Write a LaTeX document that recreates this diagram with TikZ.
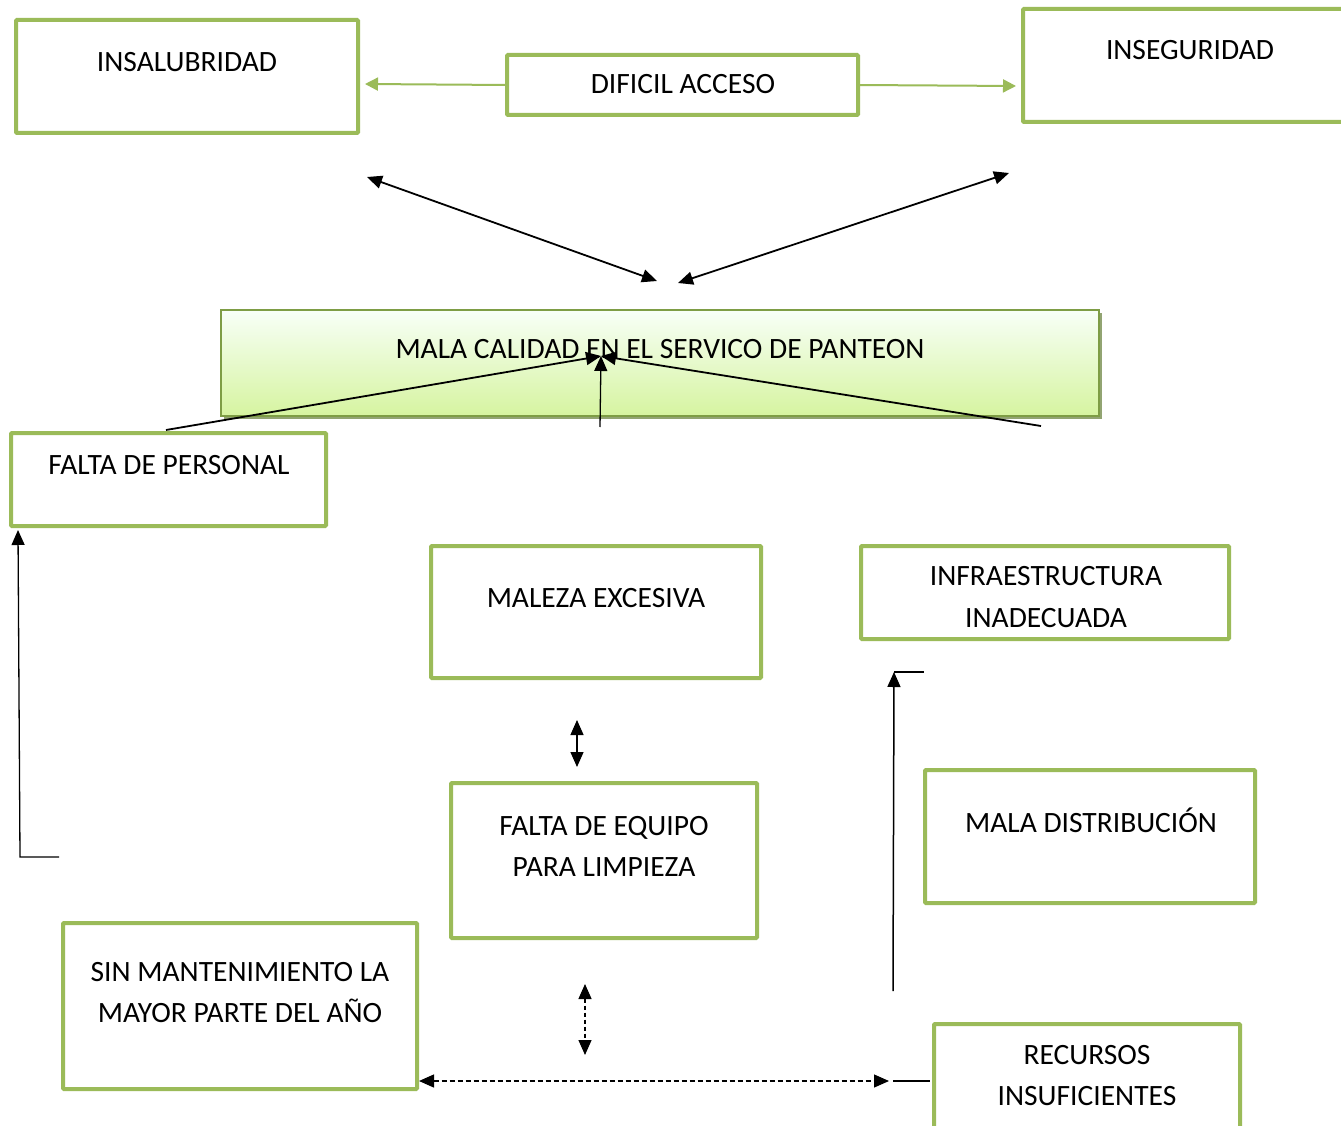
\documentclass[tikz,border=0pt]{standalone}
\usepackage{fontspec}
\setmainfont{Carlito}
\usetikzlibrary{arrows.meta,shadows}
\definecolor{boxgreen}{HTML}{9BBB59}
\definecolor{darkgreen}{HTML}{7E9D45}
\tikzset{
  box/.style={draw=boxgreen, line width=4pt, rounded corners=1pt, inner sep=0pt, outer sep=0pt, anchor=north west, fill=white},
  lbl/.style={anchor=base, inner sep=0pt, font=\fontsize{29.5}{41}\selectfont, align=center},
  conn/.style={black, line width=1.8pt, -{Triangle[length=15pt,width=13pt]}},
  dconn/.style={black, line width=1.8pt, {Triangle[length=15pt,width=13pt]}-{Triangle[length=15pt,width=13pt]}},
  gconn/.style={boxgreen, line width=2pt, -{Triangle[length=13pt,width=13pt]}},
  plain/.style={black, line width=1.8pt},
}
\begin{document}
\begin{tikzpicture}[x=1pt,y=-1pt]
\clip (0,0) rectangle (1341,1126);
\fill[white] (0,0) rectangle (1341,1126);

% boxes
\node[box, minimum width=342pt, minimum height=113pt] (insal) at (16,20) {};
\node[box, minimum width=351pt, minimum height=60pt] (dific) at (507,55) {};
\node[box, minimum width=337pt, minimum height=113pt] (inseg) at (1023,9) {};
\node[anchor=north west, minimum width=878pt, minimum height=106pt, inner sep=0pt, outer sep=0pt,
      draw=darkgreen, line width=1.5pt, top color=green!3!white, bottom color={rgb,255:red,214;green,244;blue,160},
      drop shadow={shadow xshift=2.5pt, shadow yshift=-3pt, fill=darkgreen!80!black, opacity=0.7}] (mala) at (221,310) {};
\node[box, minimum width=315pt, minimum height=93pt] (fpers) at (11,433) {};
\node[box, minimum width=330pt, minimum height=132pt] (malez) at (431,546) {};
\node[box, minimum width=368pt, minimum height=93pt] (infra) at (861,546) {};
\node[box, minimum width=306pt, minimum height=155pt] (fequip) at (451,783) {};
\node[box, minimum width=330pt, minimum height=133pt] (maldis) at (925,770) {};
\node[box, minimum width=354pt, minimum height=166pt] (sinm) at (63,923) {};
\node[box, minimum width=306pt, minimum height=116pt] (recur) at (934,1024) {};

% labels
\node[lbl] (tinsal) at (187,72) {INSALUBRIDAD};
\node[lbl] (tdific) at (683,94) {DIFICIL ACCESO};
\node[lbl] (tinseg) at (1190,60) {INSEGURIDAD};
\node[lbl] (tmala) at (660,358) {MALA CALIDAD EN EL SERVICO DE PANTEON};
\node[lbl] (tfpers) at (169,474) {FALTA DE PERSONAL};
\node[lbl] (tmalez) at (596,607) {MALEZA EXCESIVA};
\node[lbl] (tinfra1) at (1046,585) {INFRAESTRUCTURA};
\node[lbl] (tinfra2) at (1046,627) {INADECUADA};
\node[lbl] (tfeq1) at (604,835) {FALTA DE EQUIPO};
\node[lbl] (tfeq2) at (604,876) {PARA LIMPIEZA};
\node[lbl] (tmaldis) at (1091,832) {MALA DISTRIBUCIÓN};
\node[lbl] (tsinm1) at (240,981) {SIN MANTENIMIENTO LA};
\node[lbl] (tsinm2) at (240,1022) {MAYOR PARTE DEL AÑO};
\node[lbl] (trecur1) at (1087,1064) {RECURSOS};
\node[lbl] (trecur2) at (1087,1105) {INSUFICIENTES};

% free-end coordinates
\coordinate (gL) at (365,84);
\coordinate (gR) at (1016,86);
\coordinate (a1) at (367,177);
\coordinate (a2) at (657,281);
\coordinate (b1) at (1009,173);
\coordinate (b2) at (678,283);
\coordinate (t) at (601,356);
\coordinate (c1) at (166,430);
\coordinate (c2) at (600,427);
\coordinate (c3) at (1041,426);
\coordinate (e1) at (59,857);
\coordinate (e2) at (20,857);
\coordinate (e3) at (18,530);
\coordinate (m1) at (577,720);
\coordinate (m2) at (577,767);
\coordinate (d1) at (585,984);
\coordinate (d2) at (585,1055);
\coordinate (h1) at (419,1081);
\coordinate (h2) at (889,1081);
\coordinate (h3) at (893,1081);
\coordinate (h4) at (930,1081);
\coordinate (v1) at (893,991);
\coordinate (v2) at (894,672);
\coordinate (v3) at (924,672);

% connectors
\draw[gconn] (dific.west) -- (gL);
\draw[gconn] (dific.east) -- (gR);
\draw[dconn] (a1) -- (a2);
\draw[dconn] (b1) -- (b2);
\draw[conn] (c1) -- (t);
\draw[conn, line width=1.3pt] (c2) -- (t);
\draw[conn] (c3) -- (t);
\draw[conn, line width=1.3pt] (e1) -- (e2) -- (e3);
\draw[dconn, line width=1.3pt] (m1) -- (m2);
\draw[dconn, line width=1.3pt, dash pattern=on 4pt off 3pt] (d1) -- (d2);
\draw[dconn, line width=1.3pt, dash pattern=on 5pt off 3pt] (h1) -- (h2);
\draw[plain, line width=1.3pt] (h3) -- (h4);
\draw[conn, line width=1.5pt] (v1) -- (v2);
\draw[plain, line width=1.5pt] (v2) -- (v3);
\end{tikzpicture}
\end{document}
